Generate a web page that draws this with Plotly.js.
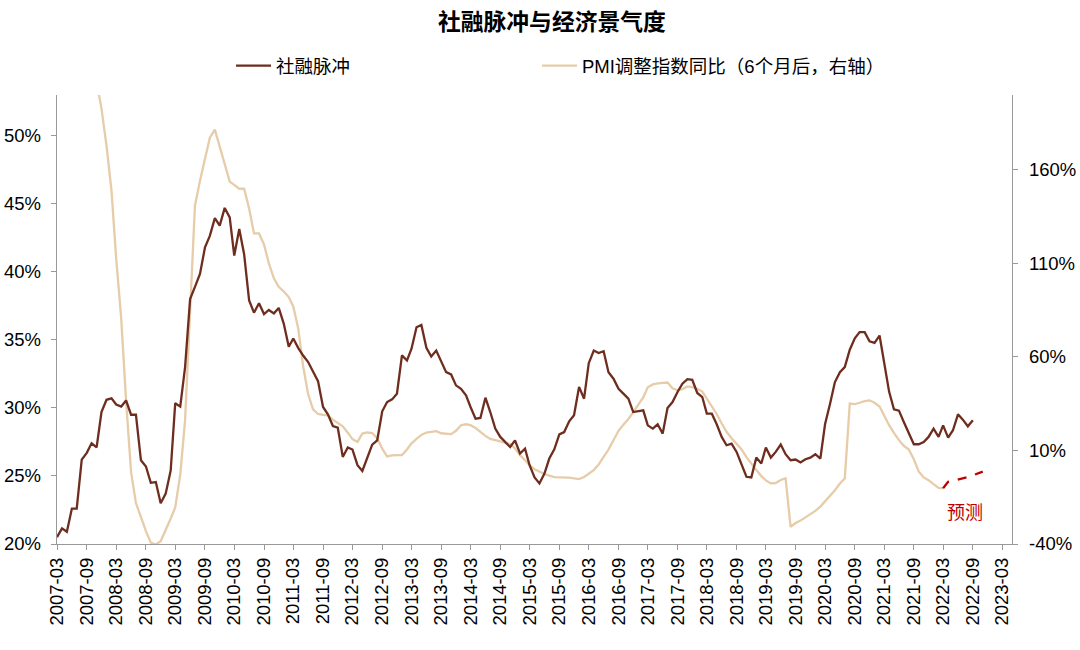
<!DOCTYPE html>
<html>
<head>
<meta charset="utf-8">
<script src="https://cdn.plot.ly/plotly-3.0.1.min.js"></script>
<style>html,body{margin:0;padding:0;background:#fff;}#chart{width:1080px;height:650px;}</style>
</head>
<body>
<div id="chart"></div>
<script>
// Monthly series, first month 2007-03
const impulseStart = '2007-03';
const socialFinancingImpulse = [
 20.5,21.15,20.9,22.6,22.6,26.2,26.7,27.4,27.1,29.7,30.6,30.7,
 30.25,30.1,30.55,29.5,29.5,26.15,25.7,24.5,24.55,23.0,23.7,25.4,
 30.35,30.1,33.0,38.0,38.9,39.85,41.8,42.65,43.95,43.4,44.7,44.0,
 41.2,43.15,41.3,37.9,37.0,37.7,36.9,37.2,36.95,37.35,36.2,34.5,
 35.1,34.4,33.85,33.37,32.68,31.97,30.07,29.53,28.67,28.55,26.4,27.09,
 26.94,25.79,25.37,26.4,27.3,27.62,29.75,30.43,30.63,31.05,33.86,33.49,
 34.35,35.93,36.1,34.42,33.78,34.22,33.44,32.63,32.46,31.66,31.41,30.92,
 30.07,29.21,29.26,30.75,29.7,28.48,27.87,27.5,27.13,27.62,26.65,27.0,
 25.79,24.89,24.45,25.18,26.28,26.96,28.06,28.23,29.02,29.46,31.55,30.68,
 33.29,34.22,34.03,34.17,32.63,32.15,31.41,31.05,30.68,29.7,29.75,29.82,
 28.72,28.48,28.8,28.11,30.0,30.43,31.17,31.78,32.12,32.07,31.1,30.8,
 29.58,29.58,28.8,27.87,27.26,27.38,26.77,25.92,24.94,24.89,26.35,25.92,
 27.09,26.35,26.77,27.31,26.6,26.16,26.21,25.99,26.23,26.35,26.6,26.28,
 28.8,30.31,31.9,32.63,33.0,34.28,35.12,35.57,35.57,34.9,34.78,35.32,
 33.5,31.2,29.9,29.8,28.97,28.16,27.33,27.33,27.5,27.87,28.48,27.87,
 28.72,27.82,28.36,29.53,29.14,28.65,29.09
];

// PMI adjusted index YoY (shifted 6 months), first month 2007-11
const pmiStart = '2007-11';
const pmiYoY = [
 207,192.7,172.9,148.9,112.6,80.6,36.8,-1.6,-18.1,-26.1,-33.1,-39.3,
 -40.3,-38.5,-32.8,-26.4,-20.5,-3.0,26.2,82.2,140.9,154.2,166.5,177.2,
 181.5,172.4,161.7,153.7,152.0,149.9,149.9,139.3,126,126,120.1,110,
 102,97.5,95,92,87,75,55,40,32,29.5,29,28.8,
 26.5,24.8,22.9,19.5,16,14.6,19,19.6,19.3,16.5,11,6.8,
 7.4,7.5,7.5,10.5,13.8,16.2,18.3,19.6,20.0,20.3,19.2,18.9,
 18.7,20.5,23.5,24,23.5,22,19.7,17.8,16.2,15.3,14.8,14.0,
 13.4,11.1,7.5,4.8,2.2,0.0,-1.4,-2.6,-3.5,-4.3,-4.4,-4.4,
 -4.5,-4.9,-5.3,-4.2,-2.6,-0.5,2.5,6.6,10.5,15.5,20.5,23.8,
 26.8,30.5,34.2,38.4,43.8,45.3,45.9,46.2,46.3,43.2,42.2,42.8,
 44.2,43.9,43.0,41.5,37.8,34,29.5,24.4,20,16.5,13.8,10.7,
 6.4,2.8,-0.5,-3.7,-6.0,-7.6,-7.4,-5.8,-4.9,-30.8,-28.8,-27.5,
 -25.8,-24.3,-22.3,-20.0,-17.2,-14.5,-11.3,-7.7,-5.0,35.1,34.8,35.5,
 36.4,36.8,35.5,33.5,28.5,23.5,19.4,15.5,12.5,10.5,5.3,-1.2,
 -4.4,-5.9,-8.0,-10.0,-10.2
];

// Forecast, first month 2022-03
const forecastStart = '2022-03';
const pmiForecast = [-10.2,-6.8,-6.2,-5.6,-5.0,-4.2,-3.3,-2.3,-1.3];

const seriesNames = ['社融脉冲', 'PMI调整指数同比（6个月后，右轴）'];
const chartTitle = '社融脉冲与经济景气度';
const forecastLabel = '预测';
const leftTicks = [20,25,30,35,40,45,50];
const rightTicks = [-40,10,60,110,160];

function months(start, n) {
  let [y, m] = start.split('-').map(Number);
  const out = [];
  for (let k = 0; k < n; k++) {
    out.push(y + '-' + String(m).padStart(2, '0') + '-01');
    m++; if (m > 12) { m = 1; y++; }
  }
  return out;
}

const FONT = '"Liberation Sans", Arial, "Noto Sans CJK SC", sans-serif';
const BROWN = '#6E2D1E';
const BEIGE = '#E6CCA9';
const RED = '#C00000';
const AXIS = '#999999';

const traces = [
  {
    x: months(impulseStart, socialFinancingImpulse.length), y: socialFinancingImpulse,
    name: seriesNames[0], type: 'scatter', mode: 'lines', yaxis: 'y2', legend: 'legend',
    line: {color: BROWN, width: 2.3}
  },
  {
    x: months(pmiStart, pmiYoY.length), y: pmiYoY,
    name: seriesNames[1], type: 'scatter', mode: 'lines', yaxis: 'y', legend: 'legend2',
    line: {color: BEIGE, width: 2.3}
  },
  {
    x: months(forecastStart, pmiForecast.length), y: pmiForecast,
    name: forecastLabel, type: 'scatter', mode: 'lines', yaxis: 'y', showlegend: false,
    line: {color: RED, width: 2.3, dash: 'dash'}
  }
];

const legendBase = {orientation: 'h', xref: 'container', yref: 'container', xanchor: 'left',
  y: 1 - 66/650, yanchor: 'middle', itemwidth: 35,
  font: {size: 18.5, family: FONT}, bgcolor: 'rgba(0,0,0,0)'};

const layout = {
  width: 1080, height: 650,
  margin: {l: 57, r: 68, t: 95, b: 106, pad: 0},
  paper_bgcolor: '#fff', plot_bgcolor: '#fff',
  font: {family: FONT, size: 18, color: '#000'},
  title: {text: '<b>' + chartTitle + '</b>', x: 0.511, xanchor: 'center', xref: 'container',
          y: 1 - 22/650, yanchor: 'middle', yref: 'container', font: {size: 22.8, family: FONT, color: '#000'}},
  showlegend: true,
  legend: Object.assign({}, legendBase, {x: 0.2139}),
  legend2: Object.assign({}, legendBase, {x: 0.4972}),
  xaxis: {
    type: 'date', range: ['2007-03-01', '2023-05-01'],
    tick0: '2007-03-01', dtick: 'M6', tickformat: '%Y-%m', tickangle: -90,
    ticks: 'outside', ticklen: 5, tickcolor: AXIS, tickwidth: 1,
    showline: true, linecolor: AXIS, linewidth: 1.3, showgrid: false, zeroline: false,
    tickfont: {size: 18.5, family: FONT}
  },
  yaxis: {
    side: 'right', range: [-40, 200], tickmode: 'array', tickvals: rightTicks,
    ticktext: rightTicks.map(v => v + '%'), ticklabelstandoff: 7,
    ticks: 'outside', ticklen: 5, tickcolor: AXIS, showline: true, linecolor: AXIS, linewidth: 1.3,
    showgrid: false, zeroline: false, tickfont: {size: 18.5, family: FONT}
  },
  yaxis2: {
    overlaying: 'y', side: 'left', range: [20, 53], tickmode: 'array', tickvals: leftTicks,
    ticktext: leftTicks.map(v => v + '%'), ticklabelstandoff: 6,
    ticks: 'outside', ticklen: 5, tickcolor: AXIS, showline: true, linecolor: AXIS, linewidth: 1.3,
    showgrid: false, zeroline: false, tickfont: {size: 18.5, family: FONT}
  },
  annotations: [{
    text: forecastLabel, xref: 'x', yref: 'y', x: '2022-07-13', y: -23.5,
    showarrow: false, font: {size: 18, color: RED, family: FONT}, xanchor: 'center', yanchor: 'middle'
  }]
};

Plotly.newPlot('chart', traces, layout, {staticPlot: true, displayModeBar: false});
</script>
</body>
</html>
